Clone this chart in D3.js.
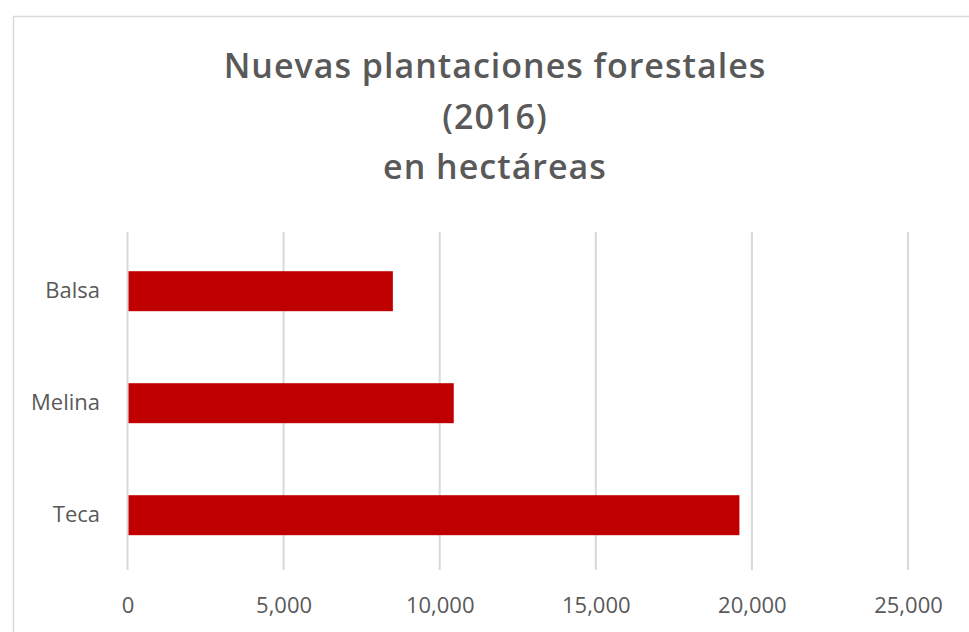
<!DOCTYPE html>
<html>
<head>
<meta charset="utf-8">
<script src="https://cdn.jsdelivr.net/npm/d3@7"></script>
<style>
  html, body { margin: 0; padding: 0; background: #fff; }
  svg { display: block; }
</style>
</head>
<body>
<div id="chart"></div>
<script>
// Nuevas plantaciones forestales por especie, 2016 (hectáreas)
const categories = ["Balsa", "Melina", "Teca"];
const values = [8500, 10450, 19600];
const tickValues = [0, 5000, 10000, 15000, 20000, 25000];
const titleLines = ["Nuevas plantaciones forestales", "(2016)", "en hectáreas"];

const W = 969, H = 632;
const FONT = "'Open Sans', Lato, sans-serif";
const plot = { left: 127.5, right: 908, top: 232, bottom: 570 };

const svg = d3.select("#chart").append("svg")
  .attr("width", W).attr("height", H);

// chart frame
svg.append("rect")
  .attr("x", 13.5).attr("y", 16.5)
  .attr("width", 1000).attr("height", 700)
  .attr("fill", "#fff").attr("stroke", "#d9d9d9").attr("stroke-width", 1.5);

// title
const title = svg.append("text")
  .attr("text-anchor", "middle")
  .attr("font-family", FONT)
  .attr("font-weight", 600)
  .attr("font-size", 34)
  .attr("letter-spacing", 1)
  .attr("fill", "#595959");
titleLines.forEach((t, i) => {
  title.append("tspan").attr("x", 495).attr("y", 78 + i * 50.5).text(t);
});

const x = d3.scaleLinear()
  .domain([0, 25000])
  .range([plot.left, plot.right]);

const y = d3.scaleBand()
  .domain(categories)
  .range([235.2, 571.2])
  .paddingInner(0.643)
  .paddingOuter(0.3215);

// vertical gridlines
svg.append("g")
  .selectAll("line")
  .data(tickValues)
  .join("line")
  .attr("x1", d => x(d)).attr("x2", d => x(d))
  .attr("y1", plot.top).attr("y2", plot.bottom)
  .attr("stroke", "#d9d9d9").attr("stroke-width", 2);

// bars
svg.append("g")
  .selectAll("rect")
  .data(categories.map((c, i) => ({ c, v: values[i] })))
  .join("rect")
  .attr("x", x(0) + 1)
  .attr("y", d => y(d.c))
  .attr("width", d => x(d.v) - x(0) - 1)
  .attr("height", y.bandwidth())
  .attr("fill", "#c00000");

// x axis labels
const xAxis = d3.axisBottom(x)
  .tickValues(tickValues)
  .tickFormat(d3.format(","))
  .tickSize(0)
  .tickPadding(0);
const gx = svg.append("g")
  .attr("transform", `translate(0, 597)`)
  .call(xAxis);
gx.select(".domain").remove();
gx.selectAll("text")
  .attr("font-family", FONT)
  .attr("font-size", 22)
  .attr("fill", "#595959");

// y axis labels
const yAxis = d3.axisLeft(y).tickSize(0).tickPadding(0);
const gy = svg.append("g")
  .attr("transform", `translate(100, 0)`)
  .call(yAxis);
gy.select(".domain").remove();
gy.selectAll("text")
  .attr("font-family", FONT)
  .attr("font-size", 22)
  .attr("fill", "#595959");
</script>
</body>
</html>
